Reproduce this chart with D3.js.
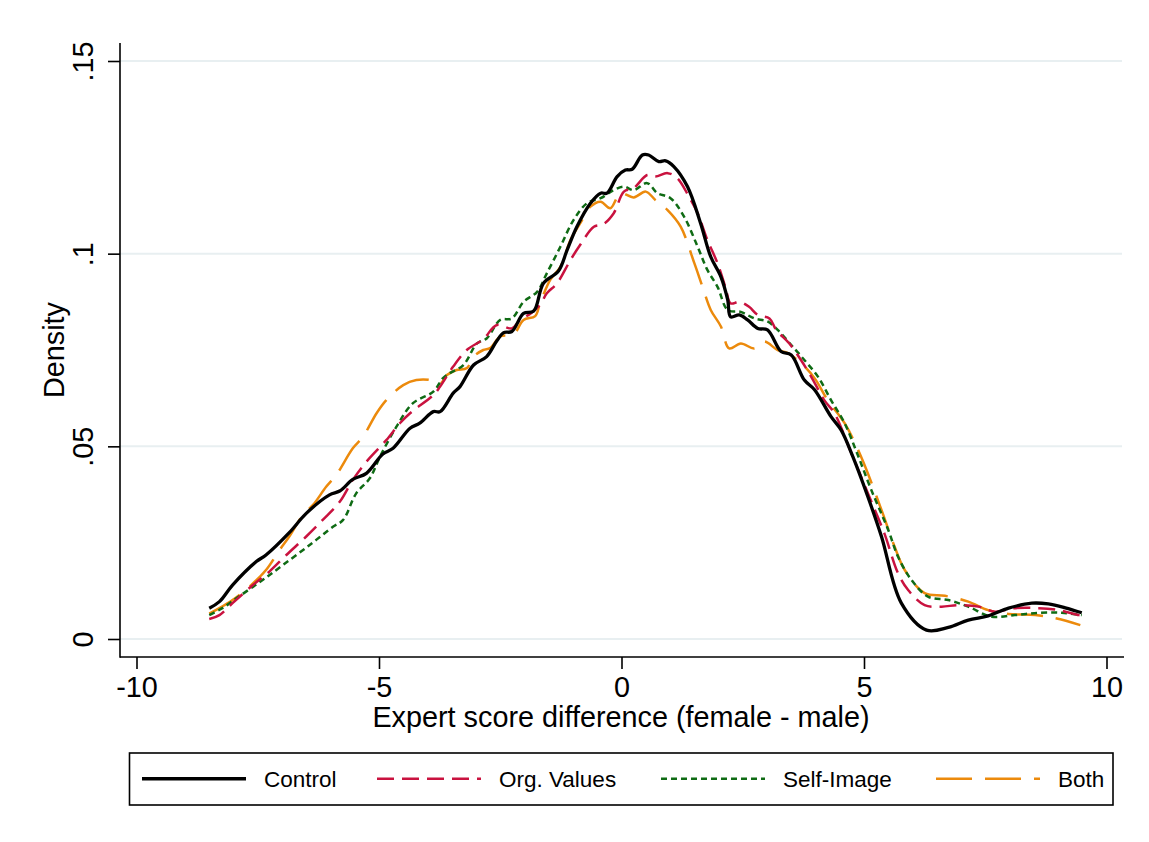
<!DOCTYPE html>
<html>
<head>
<meta charset="utf-8">
<script src="https://cdn.jsdelivr.net/npm/d3@7"></script>
<style>
  html, body { margin: 0; padding: 0; background: #fff; }
  svg { display: block; font-family: "Liberation Sans", Arial, sans-serif; }
</style>
</head>
<body>
<svg id="chart" width="1149" height="842"></svg>
<script>
// ---------------- data ----------------
const seriesNames = ["Control", "Org. Values", "Self-Image", "Both"];

const controlX = [-8.50,-8.29,-8.02,-7.53,-7.33,-6.85,-6.50,-6.02,-5.81,-5.54,-5.26,-4.92,-4.71,-4.36,-4.16,-3.88,-3.74,-3.47,-3.33,-3.05,-2.78,-2.57,-2.43,-2.26,-2.02,-1.81,-1.61,-1.30,-1.12,-0.92,-0.64,-0.43,-0.30,-0.09,0.08,0.22,0.43,0.56,0.77,0.91,1.08,1.36,1.63,1.84,2.05,2.19,2.25,2.43,2.60,2.81,3.01,3.29,3.50,3.77,3.98,4.32,4.53,4.77,5.08,5.36,5.77,6.29,6.74,7.15,7.56,7.98,8.46,8.80,9.15,9.49];
const controlY = [0.0080,0.0097,0.0140,0.0201,0.0218,0.0276,0.0326,0.0374,0.0384,0.0414,0.0430,0.0480,0.0495,0.0547,0.0560,0.0590,0.0590,0.0638,0.0655,0.0711,0.0733,0.0774,0.0795,0.0798,0.0845,0.0851,0.0923,0.0955,0.1010,0.1070,0.1131,0.1157,0.1157,0.1200,0.1217,0.1219,0.1256,0.1256,0.1239,0.1241,0.1226,0.1174,0.1079,0.0992,0.0940,0.0880,0.0836,0.0841,0.0828,0.0806,0.0802,0.0746,0.0737,0.0672,0.0647,0.0577,0.0542,0.0473,0.0369,0.0266,0.0093,0.0023,0.0030,0.0049,0.0060,0.0080,0.0093,0.0091,0.0081,0.0068];

const orgX = [-8.50,-8.29,-8.02,-7.60,-7.26,-6.91,-6.50,-6.16,-5.81,-5.54,-5.26,-4.85,-4.57,-4.36,-3.88,-3.74,-3.47,-3.19,-2.85,-2.57,-2.26,-2.09,-1.88,-1.68,-1.54,-1.33,-1.05,-0.85,-0.57,-0.37,-0.16,0.05,0.25,0.53,0.70,0.95,1.15,1.39,1.57,1.77,1.98,2.15,2.25,2.43,2.63,2.81,3.05,3.19,3.46,3.70,3.91,4.18,4.39,4.73,5.08,5.42,5.70,5.91,6.25,6.60,6.94,7.36,7.70,8.11,8.60,9.01,9.43,9.50];
const orgY = [0.0052,0.0062,0.0093,0.0140,0.0175,0.0218,0.0266,0.0309,0.0356,0.0413,0.0460,0.0516,0.0560,0.0586,0.0633,0.0655,0.0707,0.0750,0.0778,0.0815,0.0806,0.0828,0.0844,0.0867,0.0897,0.0923,0.0984,0.1023,0.1070,0.1077,0.1105,0.1161,0.1170,0.1204,0.1200,0.1209,0.1196,0.1148,0.1105,0.1036,0.0975,0.0910,0.0871,0.0875,0.0862,0.0841,0.0832,0.0802,0.0767,0.0724,0.0681,0.0620,0.0586,0.0485,0.0378,0.0274,0.0171,0.0127,0.0088,0.0084,0.0088,0.0084,0.0071,0.0080,0.0080,0.0075,0.0062,0.0061];

const selfX = [-8.50,-8.23,-7.89,-7.40,-6.98,-6.43,-5.95,-5.74,-5.47,-5.19,-4.98,-4.64,-4.30,-3.88,-3.68,-3.54,-3.26,-2.98,-2.78,-2.50,-2.26,-2.02,-1.74,-1.54,-1.26,-0.99,-0.71,-0.43,-0.16,0.05,0.25,0.53,0.74,1.01,1.29,1.57,1.77,1.98,2.19,2.46,2.74,3.01,3.22,3.50,3.77,4.05,4.32,4.60,4.87,5.15,5.50,5.70,5.98,6.32,6.74,7.15,7.63,8.11,8.60,9.08,9.49];
const selfY = [0.0062,0.0080,0.0110,0.0153,0.0192,0.0244,0.0291,0.0309,0.0378,0.0417,0.0473,0.0551,0.0612,0.0642,0.0677,0.0690,0.0711,0.0767,0.0780,0.0828,0.0832,0.0875,0.0901,0.0949,0.1018,0.1087,0.1131,0.1144,0.1165,0.1174,0.1165,0.1183,0.1157,0.1144,0.1096,0.1018,0.0958,0.0914,0.0854,0.0849,0.0832,0.0824,0.0802,0.0763,0.0724,0.0681,0.0620,0.0560,0.0478,0.0387,0.0283,0.0214,0.0153,0.0110,0.0101,0.0084,0.0058,0.0062,0.0068,0.0068,0.0062];

const bothX = [-8.50,-8.29,-8.02,-7.67,-7.33,-7.05,-6.85,-6.57,-6.36,-6.09,-5.88,-5.54,-5.33,-5.05,-4.85,-4.50,-4.23,-3.95,-3.74,-3.60,-3.40,-3.19,-3.05,-2.85,-2.71,-2.50,-2.23,-2.02,-1.78,-1.68,-1.47,-1.26,-1.05,-0.85,-0.64,-0.43,-0.23,-0.02,0.25,0.50,0.70,0.95,1.22,1.50,1.67,1.84,2.05,2.22,2.46,2.74,2.94,3.22,3.43,3.70,3.98,4.25,4.60,4.94,5.36,5.63,5.84,6.25,6.67,7.15,7.56,7.98,8.53,8.94,9.46];
const bothY = [0.0066,0.0080,0.0101,0.0136,0.0179,0.0231,0.0266,0.0322,0.0348,0.0395,0.0426,0.0495,0.0525,0.0586,0.0620,0.0659,0.0672,0.0672,0.0662,0.0685,0.0698,0.0703,0.0733,0.0750,0.0755,0.0785,0.0790,0.0828,0.0838,0.0871,0.0932,0.0966,0.1036,0.1079,0.1122,0.1135,0.1118,0.1157,0.1146,0.1161,0.1139,0.1113,0.1070,0.0976,0.0914,0.0854,0.0811,0.0754,0.0767,0.0754,0.0772,0.0750,0.0742,0.0716,0.0677,0.0620,0.0560,0.0473,0.0335,0.0240,0.0179,0.0119,0.0112,0.0097,0.0075,0.0065,0.0062,0.0054,0.0036];

const xTicks = [-10, -5, 0, 5, 10];
const xTickLabels = ["-10", "-5", "0", "5", "10"];
const yTicks = [0, 0.05, 0.10, 0.15];
const yTickLabels = ["0", ".05", ".1", ".15"];
const xTitle = "Expert score difference (female - male)";
const yTitle = "Density";

// ---------------- styles ----------------
const styles = [
  { color: "#000000", width: 3.3, dash: null },
  { color: "#c9123f", width: 2.5, dash: "17,8" },
  { color: "#0f6b14", width: 2.5, dash: "6,4" },
  { color: "#ec8a0c", width: 2.5, dash: "36,13" }
];
const axisFont = 28.8;

// ---------------- layout ----------------
const plotLeft = 120, plotRight = 1122, plotTop = 43, plotBottom = 657;
const svg = d3.select("#chart");

const x = d3.scaleLinear().domain([-10, 10]).range([136.5, 1106.5]);
const y = d3.scaleLinear().domain([0, 0.15]).range([639, 61]);

// gridlines
svg.append("g").selectAll("line").data(yTicks).join("line")
  .attr("x1", plotLeft).attr("x2", plotRight)
  .attr("y1", d => y(d)).attr("y2", d => y(d))
  .attr("stroke", "#e8eff1").attr("stroke-width", 2);

// curves
const series = [
  { xs: controlX, ys: controlY },
  { xs: orgX, ys: orgY },
  { xs: selfX, ys: selfY },
  { xs: bothX, ys: bothY }
];
const line = d3.line().x(d => x(d[0])).y(d => y(d[1])).curve(d3.curveCatmullRom.alpha(0.5));
[3, 2, 1, 0].forEach(i => {
  const s = series[i];
  const pts = s.xs.map((v, k) => [v, s.ys[k]]);
  svg.append("path")
    .attr("d", line(pts))
    .attr("fill", "none")
    .attr("stroke", styles[i].color)
    .attr("stroke-width", styles[i].width)
    .attr("stroke-linejoin", "round")
    .attr("stroke-dasharray", styles[i].dash);
});

// axes
const xAxisG = svg.append("g").attr("transform", `translate(0,${plotBottom})`);
xAxisG.append("line").attr("x1", plotLeft).attr("x2", plotRight + 2).attr("y1", 0).attr("y2", 0)
  .attr("stroke", "#000").attr("stroke-width", 1.6);
const xAxis = d3.axisBottom(x).tickValues(xTicks).tickFormat((d, i) => xTickLabels[i]).tickSize(12).tickSizeOuter(0).tickPadding(8);
const xa = svg.append("g").attr("transform", `translate(0,${plotBottom})`).call(xAxis);
xa.select(".domain").remove();
xa.selectAll(".tick line").attr("stroke", "#000").attr("stroke-width", 1.6);
xa.selectAll(".tick text").attr("font-size", axisFont).attr("fill", "#000")
  .attr("font-family", "'Liberation Sans', Arial, sans-serif")
  .attr("dy", null).attr("y", 40);

const yAxisG = svg.append("g");
yAxisG.append("line").attr("x1", plotLeft).attr("x2", plotLeft).attr("y1", plotTop).attr("y2", plotBottom + 0.8)
  .attr("stroke", "#000").attr("stroke-width", 1.6);
const yAxis = d3.axisLeft(y).tickValues(yTicks).tickFormat((d, i) => yTickLabels[i]).tickSize(12).tickSizeOuter(0);
const ya = svg.append("g").attr("transform", `translate(${plotLeft},0)`).call(yAxis);
ya.select(".domain").remove();
ya.selectAll(".tick line").attr("stroke", "#000").attr("stroke-width", 1.6);
ya.selectAll(".tick text")
  .attr("font-size", axisFont).attr("fill", "#000")
  .attr("font-family", "'Liberation Sans', Arial, sans-serif")
  .attr("x", null).attr("dy", null)
  .attr("text-anchor", "middle")
  .attr("transform", "translate(-27,0) rotate(-90)");

// axis titles
svg.append("text").attr("x", (plotLeft + plotRight) / 2).attr("y", 727)
  .attr("text-anchor", "middle").attr("font-size", axisFont).attr("fill", "#000").text(xTitle);
svg.append("text").attr("transform", `translate(64,${(y(0) + y(0.15)) / 2}) rotate(-90)`)
  .attr("text-anchor", "middle").attr("font-size", axisFont).attr("fill", "#000").text(yTitle);

// legend
const legG = svg.append("g");
legG.append("rect").attr("x", 129.5).attr("y", 753).attr("width", 983.5).attr("height", 52)
  .attr("fill", "#fff").attr("stroke", "#000").attr("stroke-width", 1.6);
const keyStarts = [142, 377, 661, 936];
const keyLen = 104;
seriesNames.forEach((name, i) => {
  const k0 = keyStarts[i];
  legG.append("line").attr("x1", k0).attr("x2", k0 + keyLen).attr("y1", 778.7).attr("y2", 778.7)
    .attr("stroke", styles[i].color).attr("stroke-width", i === 0 ? 3.6 : 2.6)
    .attr("stroke-dasharray", styles[i].dash);
  legG.append("text").attr("x", k0 + 122).attr("y", 786.7)
    .attr("font-size", 22.5).attr("fill", "#000").text(name);
});
</script>
</body>
</html>
